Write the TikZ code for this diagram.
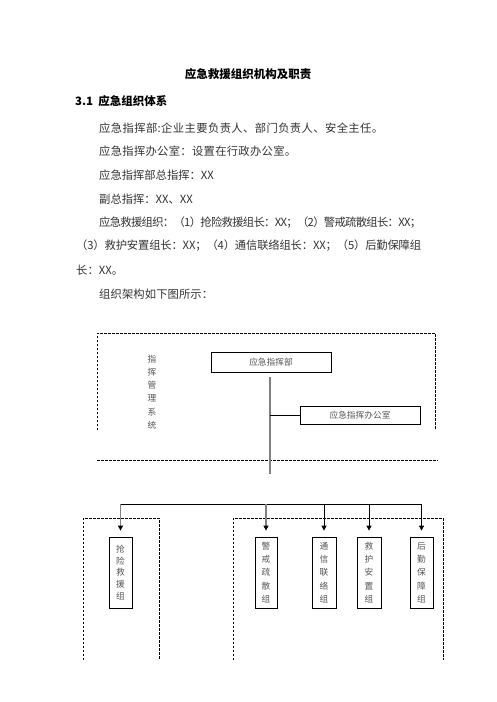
\documentclass[tikz,border=0pt]{standalone}
\usepackage{fontspec}
\setmainfont{Noto Sans CJK SC}
\usetikzlibrary{arrows.meta}
\definecolor{bodytxt}{HTML}{333333}
\definecolor{lbltxt}{HTML}{555555}
\definecolor{midgray}{HTML}{808080}
\makeatletter
\def\spreadtxt#1#2\relax{#1\spread@aux#2\relax}
\def\spread@aux#1{\ifx\relax#1\else\hskip 0pt plus 1fil minus 1pt\relax#1\expandafter\spread@aux\fi}
\makeatother
\begin{document}
\begin{tikzpicture}[x=1pt,y=-1pt,
  body/.style={anchor=west, inner sep=0pt, text=bodytxt, font=\fontsize{11.3}{13}\selectfont},
  headtxt/.style={inner sep=0pt, text=black, font=\fontsize{11.5}{13}\selectfont\bfseries},
  box/.style={draw=black, line width=0.8pt, inner sep=0pt, text=lbltxt, font=\fontsize{8.7}{10}\selectfont},
  vbox/.style={box, align=center, font=\fontsize{8.7}{13.3}\selectfont},
  vlabel/.style={inner sep=0pt, align=center, text=lbltxt, font=\fontsize{8.7}{13.2}\selectfont},
  frame/.style={line width=0.8pt, dash pattern=on 2.5pt off 1.5pt},
  trunk/.style={line width=1.6pt, draw=midgray},
  link/.style={line width=0.8pt, draw=black},
  arrgray/.style={line width=1.2pt, draw=midgray, -{Triangle[length=5pt,width=5pt,color=black]}, shorten >=6pt},
  arrblack/.style={line width=0.8pt, draw=black, -{Triangle[length=5pt,width=5pt,color=black]}, shorten >=6pt}
]
\useasboundingbox (0,0) rectangle (496,702);

% text
\node[headtxt] (title) at (248,74) {应急救援组织机构及职责};
\node[headtxt, anchor=west] (sec) at (75,101) {3.1\hspace{0.45em}应急组织体系};
\node[body] (l1) at (99,128) {\hbox to 284pt{\spreadtxt 应急指挥部:企业主要负责人、部门负责人、安全主任。\relax}};
\node[body] (l2) at (99,151.5) {\hbox to 197pt{\spreadtxt 应急指挥办公室：设置在行政办公室。\relax}};
\node[body] (l3) at (99,175) {应急指挥部总指挥：XX};
\node[body] (l4) at (99,199) {副总指挥：XX、XX};
\node[body] (l5) at (99,222.5) {\hbox to 322pt{\spreadtxt 应急救援组织：（1）抢险救援组长：XX；（2）警戒疏散组长：XX；\relax}};
\node[body] (l6) at (76,246) {\hbox to 345pt{\spreadtxt （3）救护安置组长：XX；（4）通信联络组长：XX；（5）后勤保障组\relax}};
\node[body] (l7) at (76,270) {长：XX。};
\node[body] (l8) at (99,294) {\hbox to 114pt{\spreadtxt 组织架构如下图所示：\relax}};

% upper frame
\draw[frame] (97,430) -- (97,333) -- (435,333) -- (435,430);
\draw[frame] (97,460) -- (438,460);
\node[vlabel] (sys) at (152,392) {指\\挥\\管\\理\\系\\统};

\node[box, minimum width=120pt, minimum height=20pt] (cmd) at (271,362) {应急指挥部};
\node[box, minimum width=120pt, minimum height=18pt] (office) at (360,415) {应急指挥办公室};

\coordinate (vtop) at (270,377);
\coordinate (vbot) at (270,474);
\coordinate (vj) at (270,415);
\draw[trunk] (vtop) -- (vbot);
\draw[link] (vj) -- (office.west);

% lower frames
\draw[frame] (83,660) -- (83,518) -- (159,518) -- (159,660);
\draw[frame] (233,660) -- (233,518) -- (443,518) -- (443,660);

\node[box, align=center, font=\fontsize{8.7}{11.6}\selectfont, minimum width=23pt, minimum height=71pt] (g1) at (120.5,572.5) {抢\\险\\救\\援\\组};
\node[vbox, minimum width=22pt, minimum height=71pt] (g2) at (266,572.5) {警\\戒\\疏\\散\\组};
\node[vbox, minimum width=24pt, minimum height=71pt] (g3) at (324,572.5) {通\\信\\联\\络\\组};
\node[vbox, minimum width=24pt, minimum height=71pt] (g4) at (369,572.5) {救\\护\\安\\置\\组};
\node[vbox, minimum width=23pt, minimum height=71pt] (g5) at (421.5,572.5) {后\\勤\\保\\障\\组};

\coordinate (b1) at (120.5,504);
\coordinate (b2) at (266,504);
\coordinate (b3) at (324,504);
\coordinate (b4) at (369,504);
\coordinate (b5) at (421.5,504);
\draw[link] (b1) -- (b5);
\draw[arrgray] (b1) -- (g1.north);
\draw[arrgray] (b2) -- (g2.north);
\draw[arrblack] (b3) -- (g3.north);
\draw[arrblack] (b4) -- (g4.north);
\draw[arrblack] (b5) -- (g5.north);
\end{tikzpicture}
\end{document}
